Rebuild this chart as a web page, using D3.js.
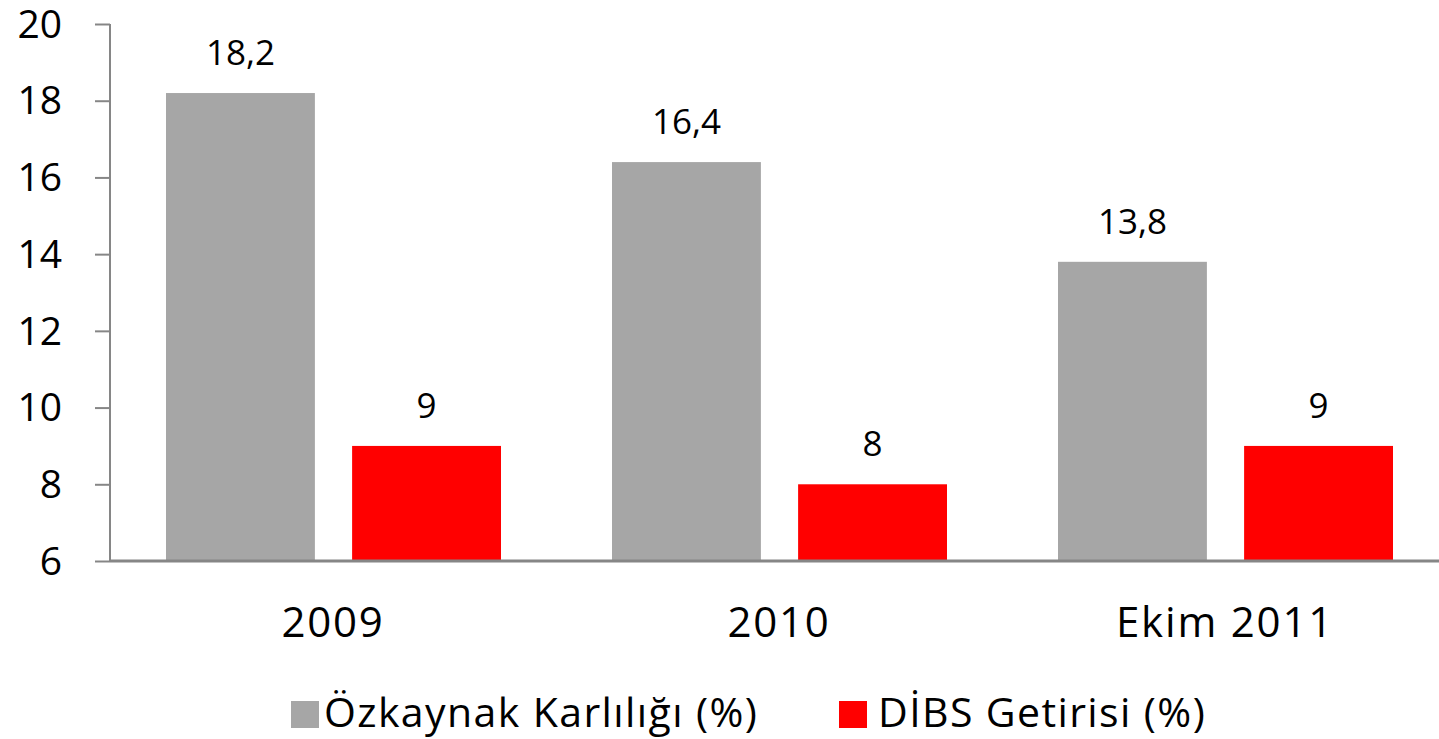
<!DOCTYPE html>
<html>
<head>
<meta charset="utf-8">
<script src="https://cdn.jsdelivr.net/npm/d3@7"></script>
<style>
  body { margin: 0; background: #fff; }
  text { font-family: "Open Sans", sans-serif; fill: #000; }
</style>
</head>
<body>
<div id="chart"></div>
<script>
// data
const categories = ['2009', '2010', 'Ekim 2011'];
const seriesNames = ['Özkaynak Karlılığı (%)', 'DİBS Getirisi (%)'];
const ozkaynak = [18.2, 16.4, 13.8];
const dibs = [9, 8, 9];
const yTicks = [6, 8, 10, 12, 14, 16, 18, 20];
const colors = ['#A6A6A6', '#FF0000'];

const W = 1439, H = 739;
const pLeft = 110, pRight = 1448, pTop = 24, pBottom = 561;

const svg = d3.select('#chart').append('svg')
  .attr('width', W)
  .attr('height', H);

const x0 = d3.scaleBand().domain(categories).range([pLeft, pRight]);
const x1 = d3.scaleBand().domain([0, 1]).range([56, 391]).paddingInner(0.2);
const y = d3.scaleLinear().domain([6, 20]).range([pBottom, pTop]);

// bars
const groups = svg.selectAll('.grp')
  .data(categories)
  .enter().append('g')
  .attr('transform', d => `translate(${x0(d)},0)`);

groups.selectAll('rect')
  .data((d, i) => [ozkaynak[i], dibs[i]])
  .enter().append('rect')
  .attr('x', (d, j) => x1(j))
  .attr('width', x1.bandwidth())
  .attr('y', d => y(d))
  .attr('height', d => pBottom - y(d))
  .attr('fill', (d, j) => colors[j]);

// value labels
groups.selectAll('.val')
  .data((d, i) => [ozkaynak[i], dibs[i]])
  .enter().append('text')
  .attr('x', (d, j) => x1(j) + x1.bandwidth() / 2)
  .attr('y', d => y(d) - 28)
  .attr('text-anchor', 'middle')
  .style('font-size', '35px')
  .text(d => String(d).replace('.', ','));

// y axis
const yAxis = svg.append('g')
  .attr('transform', `translate(${pLeft},0)`)
  .call(d3.axisLeft(y).tickValues(yTicks).tickSize(15).tickPadding(33));
yAxis.selectAll('text').style('font-size', '39px').attr('dy', '0.34em');
yAxis.selectAll('line').attr('stroke', '#868686').attr('stroke-width', 2);
yAxis.select('.domain').attr('stroke', '#868686').attr('stroke-width', 2).attr('d', `M0,${pTop}V${pBottom}`);

// x axis
const xAxis = svg.append('g')
  .attr('transform', `translate(0,${pBottom})`)
  .call(d3.axisBottom(x0).tickSize(0).tickPadding(0));
xAxis.select('.domain').attr('stroke', '#868686').attr('stroke-width', 3).attr('d', `M${pLeft},0H1439`);
xAxis.selectAll('text')
  .style('font-size', '42px')
  .style('letter-spacing', '1.8px')
  .attr('dy', null).attr('y', 76);

// legend
const legend = svg.append('g');
const legX = [291, 839];
const legTextX = [324, 878];
seriesNames.forEach((name, i) => {
  legend.append('rect')
    .attr('x', legX[i]).attr('y', 701).attr('width', 28).attr('height', 27)
    .attr('fill', colors[i]);
  legend.append('text')
    .attr('x', legTextX[i]).attr('y', 727)
    .style('font-size', '41px')
    .style('letter-spacing', '1.4px')
    .text(name);
});
</script>
</body>
</html>
